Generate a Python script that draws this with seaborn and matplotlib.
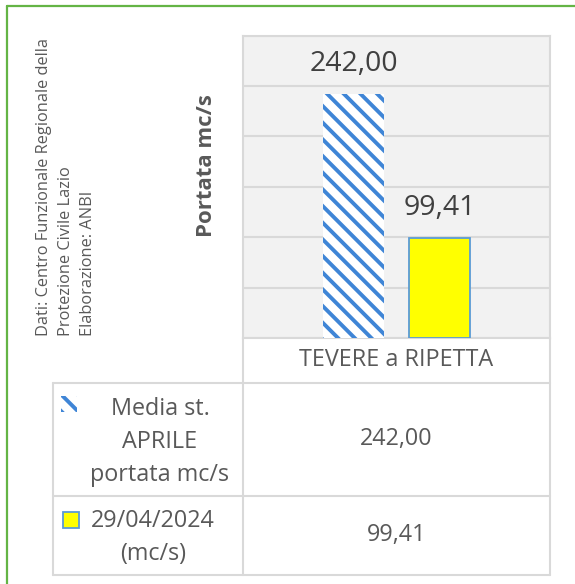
import matplotlib
matplotlib.use("Agg")
import matplotlib.pyplot as plt
import seaborn as sns
import pandas as pd
from matplotlib.patches import Rectangle
from matplotlib.lines import Line2D

# Data
stations = ["TEVERE a RIPETTA"]
series_names = ["Media st.\nAPRILE\nportata mc/s", "29/04/2024\n(mc/s)"]
media_aprile = [242.00]
portata_29apr = [99.41]
y_ticks = [0, 50, 100, 150, 200, 250, 300]
y_label = "Portata mc/s"
source_lines = [
    "Dati: Centro Funzionale Regionale della",
    "Protezione Civile Lazio",
    "Elaborazione: ANBI",
]

# Style
W, H = 575, 584
DPI = 100
BLUE = "#3f85d6"
EDGE_BLUE = "#5b9bd5"
YELLOW = "#ffff00"
GRID = "#d9d9d9"
TEXT = "#595959"
LABEL = "#404040"
GREEN = "#64b445"
HATCH = "\\\\"

sns.set_theme(style="white")
plt.rcParams["font.family"] = ["Open Sans", "DejaVu Sans"]
plt.rcParams["hatch.linewidth"] = 2.8


def fx(px):
    return px / W


def fy(py):
    return 1 - py / H


def fmt(v):
    return f"{v:.2f}".replace(".", ",")


df = pd.DataFrame({
    "stazione": stations * 2,
    "serie": [series_names[0]] * len(stations) + [series_names[1]] * len(stations),
    "portata": media_aprile + portata_29apr,
})

fig = plt.figure(figsize=(W / DPI, H / DPI), dpi=DPI)
fig.patch.set_facecolor("white")

ax_left, ax_right, ax_top, ax_bottom = 243, 550, 35.7, 338
ax = fig.add_axes([fx(ax_left), fy(ax_bottom),
                   (ax_right - ax_left) / W, (ax_bottom - ax_top) / H])
ax.set_facecolor("#f2f2f2")

sns.barplot(data=df, x="stazione", y="portata", hue="serie",
            palette=["white", YELLOW], width=0.56, gap=0.29,
            saturation=1, legend=False, ax=ax, zorder=3)

# hatched long-term mean, plain yellow for the day's reading
for bar in ax.containers[0]:
    bar.set_hatch(HATCH)
    bar.set_edgecolor(BLUE)
    bar.set_linewidth(0)
for bar in ax.containers[1]:
    bar.set_edgecolor(EDGE_BLUE)
    bar.set_linewidth(1.3)

for cont in ax.containers:
    for bar in cont:
        ax.annotate(fmt(bar.get_height()),
                    xy=(bar.get_x() + bar.get_width() / 2, bar.get_height()),
                    xytext=(0, 21.5), textcoords="offset points",
                    ha="center", va="center", fontsize=20.5, color=LABEL,
                    zorder=5)

ax.set_xlim(-0.5, 0.5)
ax.set_ylim(y_ticks[0], y_ticks[-1])
ax.set_yticks(y_ticks)
ax.set_yticklabels([])
ax.set_xticks([])
ax.set_xlabel("")
ax.set_ylabel("")
ax.tick_params(length=0)
ax.grid(axis="y", color=GRID, linewidth=1.5, zorder=0)
ax.set_axisbelow(True)
for sp in ax.spines.values():
    sp.set_color(GRID)
    sp.set_linewidth(1.5)

# Y axis title
fig.text(fx(206), fy(166), y_label, rotation=90, ha="center", va="center",
         fontsize=16, fontweight="bold", color=TEXT)

# Source note
for i, line in enumerate(source_lines):
    fig.text(fx(44 + 22 * i), fy(336), line, rotation=90, ha="center",
             va="bottom", fontsize=11.8, color=TEXT)

# Data table grid
def hline(y, x0, x1):
    fig.add_artist(Line2D([fx(x0), fx(x1)], [fy(y), fy(y)], color=GRID,
                          linewidth=1.5, transform=fig.transFigure))


def vline(x, y0, y1):
    fig.add_artist(Line2D([fx(x), fx(x)], [fy(y0), fy(y1)], color=GRID,
                          linewidth=1.5, transform=fig.transFigure))


tab_left, row1_top, row2_top, tab_bottom = 53, 383, 496, 575
vline(ax_left, ax_bottom, tab_bottom)
vline(ax_right, ax_bottom, tab_bottom)
vline(tab_left, row1_top, tab_bottom)
hline(row1_top, tab_left, ax_right)
hline(row2_top, tab_left, ax_right)
hline(tab_bottom, tab_left, ax_right)

val_x = (ax_left + ax_right) / 2
fig.text(fx(val_x), fy((ax_bottom + row1_top) / 2), stations[0],
         ha="center", va="center", fontsize=16.8, color=TEXT)

series_values = [media_aprile, portata_29apr]
row_tops = [row1_top, row2_top]
row_bottoms = [row2_top, tab_bottom]
name_x = [160, 153]
first_baseline = [415, 527]
for k in range(2):
    for j, line in enumerate(series_names[k].split("\n")):
        fig.text(fx(name_x[k]), fy(first_baseline[k] + 33 * j), line,
                 ha="center", va="baseline", fontsize=16.8, color=TEXT)
    fig.text(fx(val_x), fy((row_tops[k] + row_bottoms[k]) / 2),
             fmt(series_values[k][0]), ha="center", va="center",
             fontsize=16.8, color=TEXT)

# Legend keys
fig.add_artist(Rectangle((fx(61), fy(412)), 16 / W, 16 / H,
                         transform=fig.transFigure, facecolor="white",
                         edgecolor=BLUE, linewidth=0, hatch=HATCH))
fig.add_artist(Rectangle((fx(63), fy(528)), 16 / W, 16 / H,
                         transform=fig.transFigure, facecolor=YELLOW,
                         edgecolor=EDGE_BLUE, linewidth=1.3))

# Chart frame
fig.add_artist(Line2D([fx(7), fx(7)], [fy(6), 0], color=GREEN, linewidth=1.6,
                      transform=fig.transFigure))
fig.add_artist(Line2D([fx(7), 1], [fy(6), fy(6)], color=GREEN, linewidth=1.6,
                      transform=fig.transFigure))

fig.savefig("out.png", dpi=DPI)
